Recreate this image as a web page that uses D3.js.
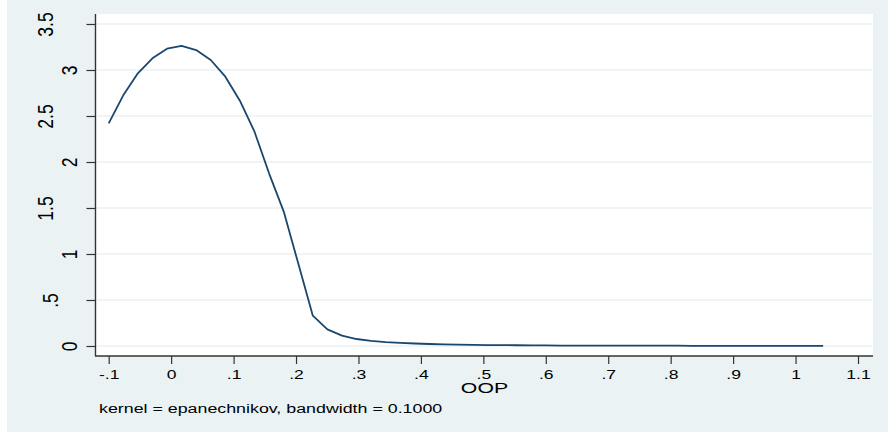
<!DOCTYPE html>
<html>
<head>
<meta charset="utf-8">
<script src="https://cdn.jsdelivr.net/npm/d3@7"></script>
<style>
  body { margin: 0; background: #fff; }
  svg { display: block; font-family: "Liberation Sans", Arial, sans-serif; }
</style>
</head>
<body>
<div id="chart"></div>
<script>
// kdensity 평가점 (OOP) 과 밀도값
const oop = [-0.1, -0.0767, -0.0533, -0.03, -0.0066, 0.0167, 0.0401, 0.0634, 0.0868, 0.1101,
  0.1335, 0.1568, 0.1802, 0.2035, 0.2269, 0.2502, 0.2736, 0.2969, 0.3203, 0.3436,
  0.367, 0.3903, 0.4137, 0.437, 0.4604, 0.4837, 0.5071, 0.5304, 0.5538, 0.5771,
  0.6005, 0.6238, 0.6472, 0.6705, 0.6939, 0.7172, 0.7406, 0.7639, 0.7873, 0.8106,
  0.834, 0.8573, 0.8807, 0.904, 0.9274, 0.9507, 0.9741, 0.9974, 1.0208, 1.0441];
const density = [2.42, 2.725, 2.964, 3.127, 3.232, 3.261, 3.217, 3.109, 2.927, 2.666,
  2.329, 1.877, 1.464, 0.899, 0.33, 0.18, 0.112, 0.076, 0.056, 0.043,
  0.034, 0.027, 0.022, 0.018, 0.015, 0.012, 0.010, 0.009, 0.008, 0.007,
  0.006, 0.005, 0.005, 0.004, 0.004, 0.004, 0.003, 0.003, 0.003, 0.003,
  0.002, 0.002, 0.002, 0.002, 0.002, 0.002, 0.001, 0.001, 0.001, 0.001];

const xTicks = [-0.1, 0, 0.1, 0.2, 0.3, 0.4, 0.5, 0.6, 0.7, 0.8, 0.9, 1, 1.1];
const xTickLabels = ["-.1", "0", ".1", ".2", ".3", ".4", ".5", ".6", ".7", ".8", ".9", "1", "1.1"];
const yTicks = [0, 0.5, 1, 1.5, 2, 2.5, 3, 3.5];
const yTickLabels = ["0", ".5", "1", "1.5", "2", "2.5", "3", "3.5"];

const xTitle = "OOP";
const note = "kernel = epanechnikov, bandwidth = 0.1000";

// 기본 크기
const width = 888, height = 434;
const plot = { left: 96, right: 873, top: 14, bottom: 356 };
const stretch = 1.3; // 원본 글자가 가로로 늘어나 있음

const svg = d3.select("#chart").append("svg")
  .attr("width", width)
  .attr("height", height);

// 바깥 배경 (Stata s2color)
svg.append("rect")
  .attr("x", 7).attr("y", 0)
  .attr("width", width - 7).attr("height", 432)
  .attr("fill", "#eaf2f3");

// 플롯 영역
svg.append("rect")
  .attr("x", plot.left).attr("y", plot.top)
  .attr("width", plot.right - plot.left).attr("height", plot.bottom - plot.top)
  .attr("fill", "#fff");

const x = d3.scaleLinear().domain([-0.1, 1.1]).range([108.7, 858]);
const y = d3.scaleLinear().domain([0, 3.5]).range([346, 24]);

// 그리드
svg.append("g").selectAll("line")
  .data(yTicks)
  .enter().append("line")
  .attr("x1", plot.left + 1).attr("x2", plot.right - 1)
  .attr("y1", d => y(d)).attr("y2", d => y(d))
  .attr("stroke", "#eaf2f3")
  .attr("stroke-width", 1.3);

// 밀도 곡선
const line = d3.line()
  .x((d, i) => x(oop[i]))
  .y(d => y(d));

svg.append("path")
  .datum(density)
  .attr("d", line)
  .attr("fill", "none")
  .attr("stroke", "#1a476f")
  .attr("stroke-width", 1.8)
  .attr("stroke-linejoin", "round");

// x 축
const xAxis = svg.append("g")
  .attr("transform", `translate(0,${plot.bottom})`)
  .call(d3.axisBottom(x)
    .tickValues(xTicks)
    .tickFormat((d, i) => xTickLabels[i])
    .tickSize(8)
    .tickSizeOuter(0)
    .tickPadding(6));
xAxis.select(".domain").remove();
xAxis.selectAll(".tick line").attr("stroke", "#333").attr("stroke-width", 1.2);
xAxis.selectAll(".tick text")
  .attr("font-size", 13.5)
  .attr("fill", "#000")
  .attr("y", 0).attr("dy", 0)
  .attr("transform", `translate(0,23) scale(${stretch},1)`);

// y 축
const yAxis = svg.append("g")
  .attr("transform", `translate(${plot.left - 0.5},0)`)
  .call(d3.axisLeft(y)
    .tickValues(yTicks)
    .tickFormat((d, i) => yTickLabels[i])
    .tickSize(9)
    .tickSizeOuter(0));
yAxis.select(".domain").remove();
yAxis.selectAll(".tick line").attr("stroke", "#333").attr("stroke-width", 1.2);
yAxis.selectAll(".tick text")
  .attr("font-size", 17.5)
  .attr("fill", "#000")
  .attr("text-anchor", "middle")
  .attr("x", 0).attr("y", 0).attr("dy", 0)
  .attr("transform", (d, i) => {
    const lab = yTickLabels[i];
    const shift = lab.length === 1 ? 0 : (lab.length === 2 ? 19 : 24);
    return `translate(${-18.5 - shift},0) scale(${stretch},1) rotate(-90)`;
  });

// 축선
svg.append("line")
  .attr("x1", plot.left - 0.5).attr("x2", plot.left - 0.5)
  .attr("y1", plot.top).attr("y2", plot.bottom)
  .attr("stroke", "#333").attr("stroke-width", 1.4);
svg.append("line")
  .attr("x1", plot.left - 1).attr("x2", plot.right)
  .attr("y1", plot.bottom).attr("y2", plot.bottom)
  .attr("stroke", "#333").attr("stroke-width", 1.4);

// 축 제목
svg.append("text")
  .attr("font-size", 14)
  .attr("text-anchor", "middle")
  .attr("transform", `translate(${(plot.left + plot.right) / 2},393) scale(1.52,1)`)
  .text(xTitle);

// 주석
svg.append("text")
  .attr("font-size", 13.5)
  .attr("transform", `translate(99,413) scale(1.32,1)`)
  .text(note);
</script>
</body>
</html>
